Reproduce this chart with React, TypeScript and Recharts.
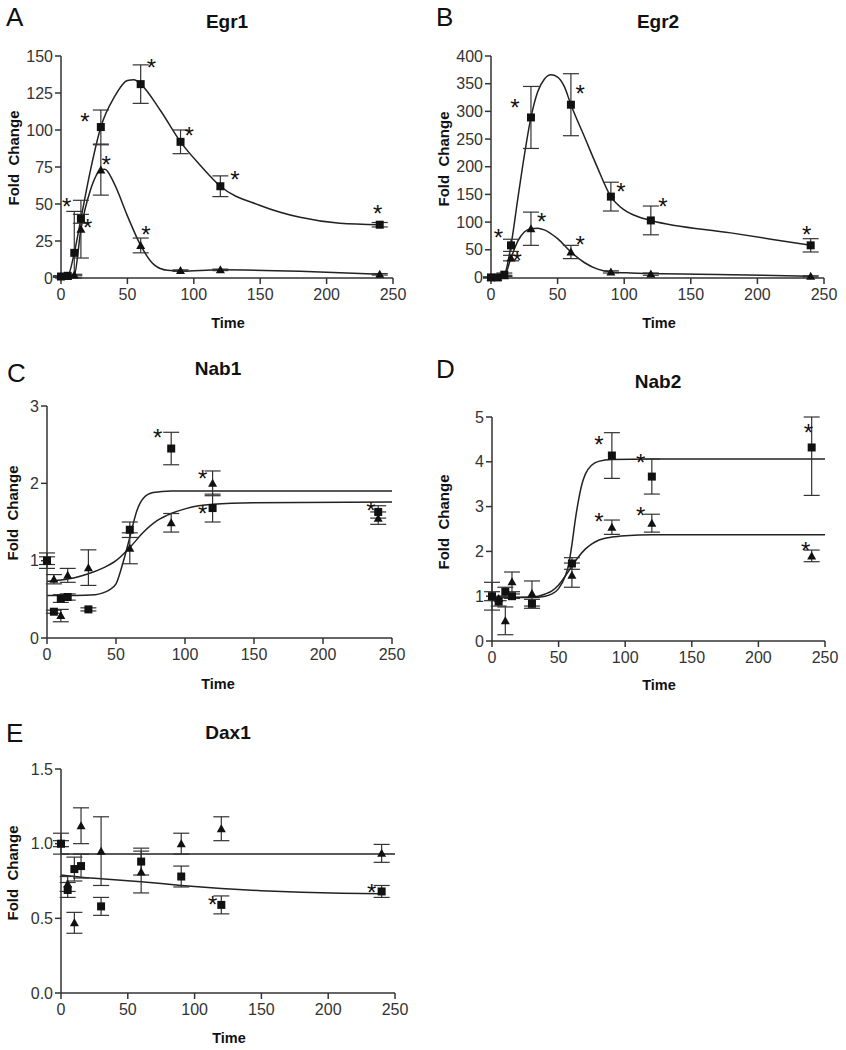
import React from 'react';
import { ComposedChart, Line, Scatter, XAxis, YAxis, ErrorBar } from 'recharts';

const FONT = '"Liberation Sans", Arial, Helvetica, sans-serif';
const INK = '#222';

// sampling times (min), shared by every panel
const times = [0, 5, 10, 15, 30, 60, 90, 120, 240];
const xTicks = [0, 50, 100, 150, 200, 250];

// Egr1
const egr1Sq = [1, 1.5, 17, 40, 102, 131, 92, 62, 36];
const egr1SqErr: (number | number[])[] = [0.5, 0.5, [17, 28], 3, 11.5, 13, 8, 7, 1.5];
const egr1Tri = [1, 1, 2, 33, 73, 22, 5, 5.5, 2.5];
const egr1TriErr = [0.3, 0.3, 0.5, 19.5, 17, 5, 0.5, 0.5, 0.5];
const egr1Stars = [[4.3, 51.6], [18, 109], [20, 37], [34, 80], [68, 145], [96.6, 99.5], [131, 69.6], [64, 32.4], [238.5, 46.4]];
const egr1SqFit = [[0, 1], [5, 1.5], [10, 17], [15, 40], [22, 72], [30, 102], [40, 122], [50, 133.5], [55, 134], [60, 131], [75, 113], [90, 92], [105, 76], [120, 62], [150, 49], [180, 41], [210, 37], [240, 36]];
const egr1TriFit = [[0, 0.5], [5, 1], [10, 2], [15, 33], [22, 59], [30, 73], [33, 73.5], [40, 64], [50, 42], [60, 22], [70, 9], [80, 5.2], [90, 4.8], [120, 5.5], [180, 4.5], [240, 2.5]];

// Egr2
const egr2Sq = [0, 0, 5, 58, 289, 312, 146, 103, 58];
const egr2SqErr = [1, 1, 3, 11, 56, 56, 26, 26, 12];
const egr2Tri = [0, 0, 3, 35, 88, 46, 10, 6, 2];
const egr2TriErr = [0.5, 0.5, 1, 5, 30, 12, 2, 2, 1];
const egr2Stars = [[5.5, 80], [18, 316], [19.7, 38], [38, 110], [67, 340], [67, 67], [97.6, 164], [129, 136], [237, 86]];
const egr2SqFit = [[0, 0], [5, 0], [10, 5], [15, 58], [20, 140], [25, 220], [30, 289], [35, 335], [40, 358], [45, 366], [50, 362], [55, 345], [60, 312], [70, 255], [80, 198], [90, 146], [100, 122], [110, 110], [120, 103], [180, 80.5], [240, 58]];
const egr2TriFit = [[0, 0], [5, 0], [10, 3], [15, 35], [20, 65], [25, 82], [30, 88], [35, 89], [40, 86], [50, 70], [60, 46], [70, 27], [80, 15], [90, 10], [105, 8], [120, 7], [180, 5], [240, 2]];

// Nab1
const nab1Sq = [1.0, 0.34, 0.51, 0.53, 0.37, 1.40, 2.45, 1.68, 1.63];
const nab1SqErr = [0.1, 0.02, 0.05, 0.04, 0.02, 0.1, 0.21, 0.18, 0.08];
const nab1Tri = [1.0, 0.76, 0.29, 0.81, 0.91, 1.16, 1.49, 2.0, 1.55];
const nab1TriErr = [0.05, 0.06, 0.08, 0.09, 0.23, 0.2, 0.12, 0.16, 0.08];
const nab1Stars = [[80.2, 2.65], [112.8, 2.12], [112.8, 1.67], [234.8, 1.71]];
const nab1SqFit = [[0, 0.55], [20, 0.55], [35, 0.56], [40, 0.58], [45, 0.62], [50, 0.7], [55, 0.97], [60, 1.3], [65, 1.64], [70, 1.81], [77, 1.88], [90, 1.9], [120, 1.9], [250, 1.9]];
const nab1TriFit = [[0, 0.73], [10, 0.75], [20, 0.78], [30, 0.83], [40, 0.9], [50, 1.0], [60, 1.17], [70, 1.37], [80, 1.52], [90, 1.61], [100, 1.67], [110, 1.71], [120, 1.73], [150, 1.75], [250, 1.76]];

// Nab2
const nab2Sq = [1.0, 0.88, 1.10, 1.0, 0.83, 1.73, 4.14, 3.67, 4.32];
const nab2SqErr: (number | number[])[] = [0.31, 0.1, 0.1, 0.05, 0.1, 0.13, 0.51, 0.39, [1.07, 0.68]];
const nab2Tri = [1.0, 0.95, 0.45, 1.32, 1.06, 1.47, 2.54, 2.63, 1.90];
const nab2TriErr = [0.1, 0.05, 0.31, 0.22, 0.28, 0.27, 0.16, 0.2, 0.13];
const nab2Stars = [[80.3, 4.49], [111.6, 4.08], [237.5, 4.75], [80.3, 2.76], [111.6, 2.9], [235.5, 2.13]];
const nab2SqFit = [[0, 0.97], [30, 0.97], [40, 1.0], [45, 1.05], [50, 1.17], [55, 1.45], [57.5, 1.7], [60, 2.15], [62.5, 2.7], [65, 3.15], [67.5, 3.5], [70, 3.72], [75, 3.93], [80, 4.01], [90, 4.05], [120, 4.06], [250, 4.06]];
const nab2TriFit = [[0, 0.97], [30, 0.98], [40, 1.05], [45, 1.12], [50, 1.25], [55, 1.45], [60, 1.67], [65, 1.88], [70, 2.05], [75, 2.17], [80, 2.25], [90, 2.32], [100, 2.35], [120, 2.37], [250, 2.37]];

// Dax1
const dax1Sq = [1.0, 0.69, 0.83, 0.85, 0.58, 0.88, 0.78, 0.59, 0.68];
const dax1SqErr = [0.07, 0.05, 0.08, 0.08, 0.06, 0.09, 0.07, 0.06, 0.04];
const dax1Tri = [1.0, 0.73, 0.47, 1.12, 0.95, 0.81, 1.0, 1.10, 0.935];
const dax1TriErr = [0.02, 0.05, 0.07, 0.12, 0.23, 0.14, 0.07, 0.08, 0.06];
const dax1Stars = [[113.5, 0.62], [232.5, 0.7]];
const dax1SqFit = [[0, 0.79], [15, 0.775], [30, 0.765], [60, 0.745], [90, 0.72], [120, 0.7], [150, 0.685], [180, 0.675], [210, 0.668], [240, 0.665]];
const dax1TriFit = [[0, 0.93], [250, 0.93]];

const toPts = (ys: number[], errs: (number | number[])[]) => times.map((x, i) => ({ x, y: ys[i], e: errs[i] }));
const toXY = (pairs: number[][]) => pairs.map(([x, y]) => ({ x, y }));

const Square = (p: any) => <rect x={p.cx - 4} y={p.cy - 4} width={8} height={8} fill="#111" />;
const Triangle = (p: any) => (
  <polygon points={`${p.cx},${p.cy - 4.5} ${p.cx + 4.5},${p.cy + 3.5} ${p.cx - 4.5},${p.cy + 3.5}`} fill="#111" />
);
const Star = (p: any) => (
  <text x={p.cx} y={p.cy + 13} textAnchor="middle" fontSize={24} fontFamily={FONT} fill="#111">*</text>
);

const YW = 40;
const MT = 10;
const MR = 15;
const XH = 30;

const axisStyle = { stroke: '#333', strokeWidth: 1.5 };
const tickStyle = { fill: '#333', fontSize: 16, fontFamily: FONT };

const panels = [
  { L: 61, R: 393, T: 56, B: 278, domain: [0, 150], ticks: [0, 25, 50, 75, 100, 125, 150], fmt: (v: number) => `${v}`,
    sq: toPts(egr1Sq, egr1SqErr), tri: toPts(egr1Tri, egr1TriErr), sqFit: egr1SqFit, triFit: egr1TriFit, stars: egr1Stars },
  { L: 491, R: 824, T: 56, B: 278, domain: [0, 400], ticks: [0, 50, 100, 150, 200, 250, 300, 350, 400], fmt: (v: number) => `${v}`,
    sq: toPts(egr2Sq, egr2SqErr), tri: toPts(egr2Tri, egr2TriErr), sqFit: egr2SqFit, triFit: egr2TriFit, stars: egr2Stars },
  { L: 47, R: 392, T: 406, B: 638, domain: [0, 3], ticks: [0, 1, 2, 3], fmt: (v: number) => `${v}`,
    sq: toPts(nab1Sq, nab1SqErr), tri: toPts(nab1Tri, nab1TriErr), sqFit: nab1SqFit, triFit: nab1TriFit, stars: nab1Stars },
  { L: 492, R: 825, T: 417, B: 641, domain: [0, 5], ticks: [0, 1, 2, 3, 4, 5], fmt: (v: number) => `${v}`,
    sq: toPts(nab2Sq, nab2SqErr), tri: toPts(nab2Tri, nab2TriErr), sqFit: nab2SqFit, triFit: nab2TriFit, stars: nab2Stars },
  { L: 61, R: 395, T: 769, B: 993, domain: [0, 1.5], ticks: [0, 0.5, 1, 1.5], fmt: (v: number) => v.toFixed(1),
    sq: toPts(dax1Sq, dax1SqErr), tri: toPts(dax1Tri, dax1TriErr), sqFit: dax1SqFit, triFit: dax1TriFit, stars: dax1Stars },
];

// letter, title and axis-title placement
const labels = [
  { letter: 'A', lx: 6, ly: 26, title: 'Egr1', tx: 227, ty: 28, timeX: 228, timeY: 328, fcX: 19, fcY: 158 },
  { letter: 'B', lx: 436, ly: 26, title: 'Egr2', tx: 658, ty: 28, timeX: 659, timeY: 328, fcX: 449, fcY: 159 },
  { letter: 'C', lx: 7, ly: 382, title: 'Nab1', tx: 218, ty: 375, timeX: 218, timeY: 689, fcX: 18, fcY: 513 },
  { letter: 'D', lx: 436, ly: 378, title: 'Nab2', tx: 658, ty: 388, timeX: 659, timeY: 690, fcX: 449, fcY: 522 },
  { letter: 'E', lx: 6, ly: 742, title: 'Dax1', tx: 228, ty: 739, timeX: 229, timeY: 1043, fcX: 18, fcY: 873 },
];

function Panel({ p }: { p: any }) {
  const w = p.R - p.L + YW + MR;
  const h = p.B - p.T + MT + XH;
  return (
    <div style={{ position: 'absolute', left: p.L - YW, top: p.T - MT }}>
      <ComposedChart width={w} height={h} margin={{ top: MT, right: MR, left: 0, bottom: 0 }}>
        <XAxis type="number" dataKey="x" domain={[0, 250]} ticks={xTicks} interval={0} height={XH}
          tickSize={6} tickMargin={5} axisLine={axisStyle} tickLine={axisStyle} tick={tickStyle} />
        <YAxis type="number" domain={p.domain} ticks={p.ticks} interval={0} width={YW} tickFormatter={p.fmt}
          tickSize={6} tickMargin={2} axisLine={axisStyle} tickLine={axisStyle} tick={tickStyle} />
        <Line data={toXY(p.sqFit)} dataKey="y" type="monotone" stroke={INK} strokeWidth={1.5} dot={false} activeDot={false} isAnimationActive={false} />
        <Line data={toXY(p.triFit)} dataKey="y" type="monotone" stroke={INK} strokeWidth={1.5} dot={false} activeDot={false} isAnimationActive={false} />
        <Scatter data={p.tri} dataKey="y" shape={Triangle} isAnimationActive={false}>
          <ErrorBar dataKey="e" direction="y" width={8} stroke="#333" strokeWidth={1.2} />
        </Scatter>
        <Scatter data={p.sq} dataKey="y" shape={Square} isAnimationActive={false}>
          <ErrorBar dataKey="e" direction="y" width={8} stroke="#333" strokeWidth={1.2} />
        </Scatter>
        <Scatter data={toXY(p.stars)} dataKey="y" shape={Star} isAnimationActive={false} />
      </ComposedChart>
    </div>
  );
}

export default function App() {
  return (
    <div style={{ position: 'absolute', left: 0, top: 0, width: 846, height: 1050, background: '#fff' }}>
      {panels.map((p, i) => <Panel key={i} p={p} />)}
      <svg width={846} height={1050} style={{ position: 'absolute', left: 0, top: 0, pointerEvents: 'none' }} fontFamily={FONT}>
        {labels.map((l) => (
          <g key={l.letter} fill="#111">
            <text x={l.lx} y={l.ly} fontSize={26}>{l.letter}</text>
            <text x={l.tx} y={l.ty} fontSize={19} fontWeight="bold" textAnchor="middle">{l.title}</text>
            <text x={l.timeX} y={l.timeY} fontSize={14.5} fontWeight="bold" textAnchor="middle">Time</text>
            <text transform={`translate(${l.fcX},${l.fcY}) rotate(-90)`} fontSize={15} fontWeight="bold" textAnchor="middle" xmlSpace="preserve">Fold  Change</text>
          </g>
        ))}
      </svg>
    </div>
  );
}
